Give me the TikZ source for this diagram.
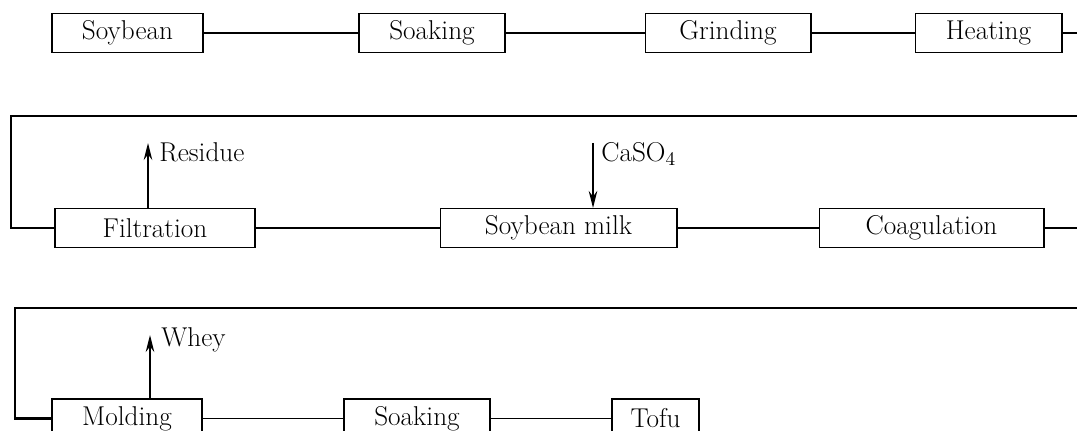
\documentclass[tikz,border=0pt]{standalone}
\usepackage{fontspec}
\usetikzlibrary{arrows.meta}

\newcommand{\stagefont}{\fontsize{15.5}{18}\selectfont\addfontfeature{LetterSpace=4}}

\tikzset{
  stage/.style={draw,line width=0.6pt,minimum height=0.78cm,inner sep=0pt,
    font=\stagefont},
  link/.style={line width=1pt},
  flowarrow/.style={line width=1.1pt,-{Stealth[length=0.34cm,width=0.17cm]}},
  tag/.style={anchor=base west,inner sep=0pt,font=\stagefont}
}

\begin{document}
\begin{tikzpicture}[x=0.02cm,y=-0.02cm]
  \useasboundingbox (0,0) rectangle (1077,431);
  \clip (0,0) rectangle (1077,431);

  % first row
  \node[stage,minimum width=3.02cm] (soybean) at (127.5,33) {Soybean};
  \node[stage,minimum width=2.92cm] (soaking) at (432,33) {Soaking};
  \node[stage,minimum width=3.32cm] (grinding) at (728,33) {Grinding};
  \node[stage,minimum width=2.94cm] (heating) at (988.5,33) {Heating};

  % second row
  \node[stage,minimum width=4.00cm] (filtration) at (155,228) {Filtration};
  \node[stage,minimum width=4.74cm] (milk) at (558.5,228) {Soybean milk};
  \node[stage,minimum width=4.50cm] (coagulation) at (931.5,228) {Coagulation};

  % third row
  \node[stage,minimum width=3.00cm] (molding) at (127,418.5) {Molding};
  \node[stage,minimum width=2.92cm] (soakingb) at (417,418.5) {Soaking};
  \node[stage,minimum width=1.74cm] (tofu) at (655.5,418.5) {Tofu};

  % turning points of the loops
  \coordinate (r1) at (1100,33);
  \coordinate (l2) at (11,116);
  \coordinate (r2) at (1100,228);
  \coordinate (l3) at (15,308);

  \draw[link] (soybean) -- (soaking);
  \draw[link] (soaking) -- (grinding);
  \draw[link] (grinding) -- (heating);
  \draw[link,line width=1.2pt] (heating) -- (r1) |- (l2) |- (filtration);
  \draw[link] (filtration) -- (milk);
  \draw[link] (milk) -- (coagulation);
  \draw[link,line width=1.2pt] (coagulation) -- (r2) |- (l3) |- (molding);
  \draw[link] (molding) -- (soakingb);
  \draw[link] (soakingb) -- (tofu);

  % side streams
  \coordinate (residue) at (148,143);
  \coordinate (caso) at (593,143);
  \coordinate (whey) at (150,335);
  \draw[flowarrow] (residue |- filtration.north) -- (residue);
  \draw[flowarrow] (caso) -- (caso |- milk.north);
  \draw[flowarrow] (whey |- molding.north) -- (whey);
  \node[tag] (residuetext) at (159,162) {Residue};
  \node[tag] (casotext) at (601,162) {CaSO$_4$};
  \node[tag] (wheytext) at (161,347) {Whey};
\end{tikzpicture}
\end{document}
